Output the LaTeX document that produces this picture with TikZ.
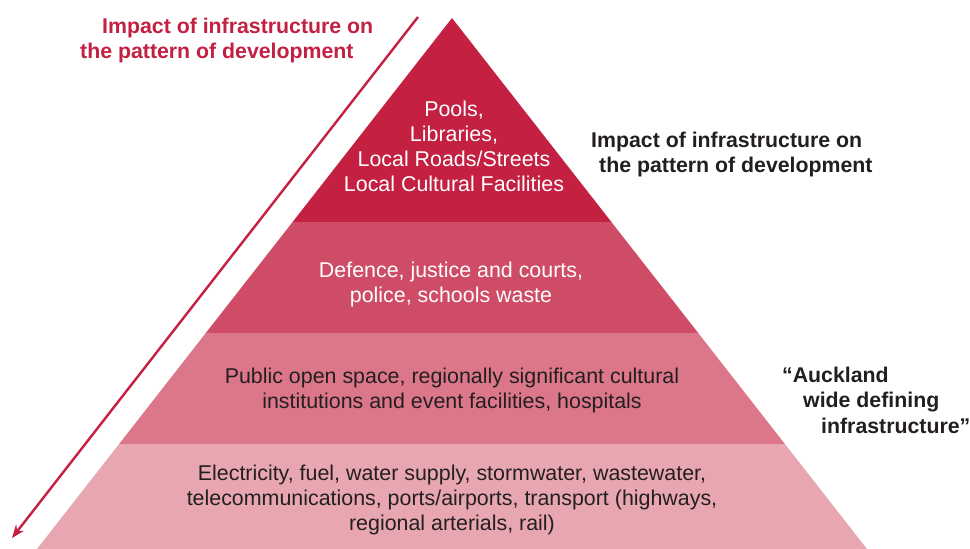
\documentclass[tikz,border=0pt]{standalone}
\usepackage{fontspec}
\setmainfont{Liberation Sans}
\usetikzlibrary{arrows.meta}
\definecolor{band1}{HTML}{C32042}
\definecolor{band2}{HTML}{CF4C66}
\definecolor{band3}{HTML}{DC7789}
\definecolor{band4}{HTML}{E8A6B1}
\definecolor{ink}{HTML}{231F20}
\tikzset{
  bandtext/.style={inner sep=0pt, align=center, font=\fontsize{21.4}{25}\selectfont},
  sidetext/.style={inner sep=0pt, align=left, font=\fontsize{21.3}{25}\selectfont\bfseries},
}
\begin{document}
\begin{tikzpicture}[x=1pt,y=-1pt]
\useasboundingbox (0,0) rectangle (970,549);
% bands
\fill[band1] (452,18) -- (292.6,222) -- (611.4,222) -- cycle;
\fill[band2] (292.6,222) -- (205.8,333) -- (698.2,333) -- (611.4,222) -- cycle;
\fill[band3] (205.8,333) -- (119.1,444) -- (784.9,444) -- (698.2,333) -- cycle;
\fill[band4] (119.1,444) -- (37,549) -- (867,549) -- (784.9,444) -- cycle;
% texts in bands (base anchor = last line's baseline)
\node[bandtext, text=white, anchor=base] (t1) at (454,191) {Pools,\\Libraries,\\Local Roads/Streets\\Local Cultural Facilities};
\node[bandtext, text=white, anchor=base] (t2) at (451,302) {Defence, justice and courts,\\police, schools waste};
\node[bandtext, text=ink, anchor=base] (t3) at (452,408) {Public open space, regionally significant cultural\\institutions and event facilities, hospitals};
\node[bandtext, text=ink, anchor=base] (t4) at (452,530) {Electricity, fuel, water supply, stormwater, wastewater,\\telecommunications, ports/airports, transport (highways,\\regional arterials, rail)};
% side texts
\node[sidetext, text=band1, anchor=base west] (r1) at (102,33) {Impact of infrastructure on};
\node[sidetext, text=band1, anchor=base west] (r2) at (80,58) {the pattern of development};
\node[sidetext, text=ink, anchor=base west] (b1) at (591,147) {Impact of infrastructure on};
\node[sidetext, text=ink, anchor=base west] (b2) at (599,172) {the pattern of development};
\node[sidetext, text=ink, anchor=base west] (a1) at (782,382) {“Auckland};
\node[sidetext, text=ink, anchor=base west] (a2) at (803,407) {wide defining};
\node[sidetext, text=ink, anchor=base west] (a3) at (821,433) {infrastructure”};
% arrow
\coordinate (as) at (418,17);
\coordinate (ae) at (12,538);
\draw[band1, line width=2.4pt, -{Stealth[length=13pt,width=10pt]}] (as) -- (ae);
\end{tikzpicture}
\end{document}
